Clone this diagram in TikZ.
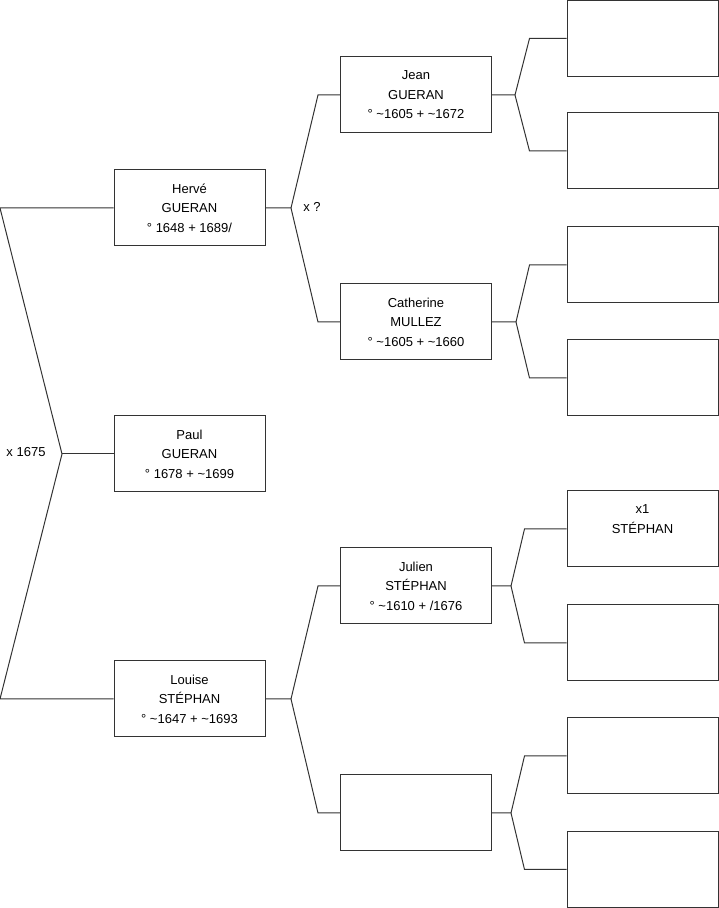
\documentclass[tikz,border=0pt]{standalone}
\usepackage{fontspec}
\setmainfont{Liberation Sans}

\begin{document}
\begin{tikzpicture}[x=1pt, y=1pt,
  person/.style={draw=black!80, line width=1pt, minimum width=151pt, minimum height=76pt,
    inner sep=0pt, align=center, font=\fontsize{13}{19.5}\selectfont},
  link/.style={line width=1pt, black!80},
  tag/.style={font=\fontsize{13}{15}\selectfont}]
  \useasboundingbox (0,0) rectangle (719,908);
  % generation 1 and 2
  \node[person] (herve) at (189.5,700) {Hervé\\GUERAN\\° 1648 + 1689/};
  \node[person] (paul) at (189.5,454) {Paul\\GUERAN\\° 1678 + \textasciitilde1699};
  \node[person] (louise) at (189.5,209) {Louise\\STÉPHAN\\° \textasciitilde1647 + \textasciitilde1693};
  % generation 3
  \node[person] (jean) at (416,813) {Jean\\GUERAN\\° \textasciitilde1605 + \textasciitilde1672};
  \node[person] (catherine) at (416,586) {Catherine\\MULLEZ\\° \textasciitilde1605 + \textasciitilde1660};
  \node[person] (julien) at (416,322) {Julien\\STÉPHAN\\° \textasciitilde1610 + /1676};
  \node[person] (blankm) at (416,95) {};
  % generation 4
  \node[person] (g1) at (642.5,869.5) {};
  \node[person] (g2) at (642.5,757) {};
  \node[person] (g3) at (642.5,643) {};
  \node[person] (g4) at (642.5,530) {};
  \node[person] (g5) at (642.5,379) {x1\\STÉPHAN\\ };
  \node[person] (g6) at (642.5,265) {};
  \node[person] (g7) at (642.5,152) {};
  \node[person] (g8) at (642.5,38.5) {};
  % marriages
  \node[tag] (mar1) at (26,456) {x 1675};
  \node[tag] (mar2) at (312,701) {x ?};
  % left bracket
  \coordinate (rt) at (0,700);
  \coordinate (rb) at (0,209);
  \coordinate (rj) at (62,454);
  \draw[link] (herve.west) -- (rt) -- (rj) -- (rb) -- (louise.west);
  \draw[link] (rj) -- (paul.west);
  % herve
  \coordinate (hj) at (291,700);
  \draw[link] (herve.east) -- (hj) -- ([xshift=-22pt]jean.west) -- (jean.west);
  \draw[link] (hj) -- ([xshift=-22pt]catherine.west) -- (catherine.west);
  % louise
  \coordinate (lj) at (291,209);
  \draw[link] (louise.east) -- (lj) -- ([xshift=-22pt]julien.west) -- (julien.west);
  \draw[link] (lj) -- ([xshift=-22pt]blankm.west) -- (blankm.west);
  % jean
  \coordinate (jj) at (515,813);
  \draw[link] (jean.east) -- (jj) -- ([xshift=-37pt]g1.west) -- (g1.west);
  \draw[link] (jj) -- ([xshift=-37pt]g2.west) -- (g2.west);
  % catherine
  \coordinate (cj) at (516,586);
  \draw[link] (catherine.east) -- (cj) -- ([xshift=-37pt]g3.west) -- (g3.west);
  \draw[link] (cj) -- ([xshift=-37pt]g4.west) -- (g4.west);
  % julien
  \coordinate (uj) at (511,322);
  \draw[link] (julien.east) -- (uj) -- ([xshift=-42pt]g5.west) -- (g5.west);
  \draw[link] (uj) -- ([xshift=-42pt]g6.west) -- (g6.west);
  % blank
  \coordinate (bj) at (511,95);
  \draw[link] (blankm.east) -- (bj) -- ([xshift=-42pt]g7.west) -- (g7.west);
  \draw[link] (bj) -- ([xshift=-42pt]g8.west) -- (g8.west);
\end{tikzpicture}
\end{document}
